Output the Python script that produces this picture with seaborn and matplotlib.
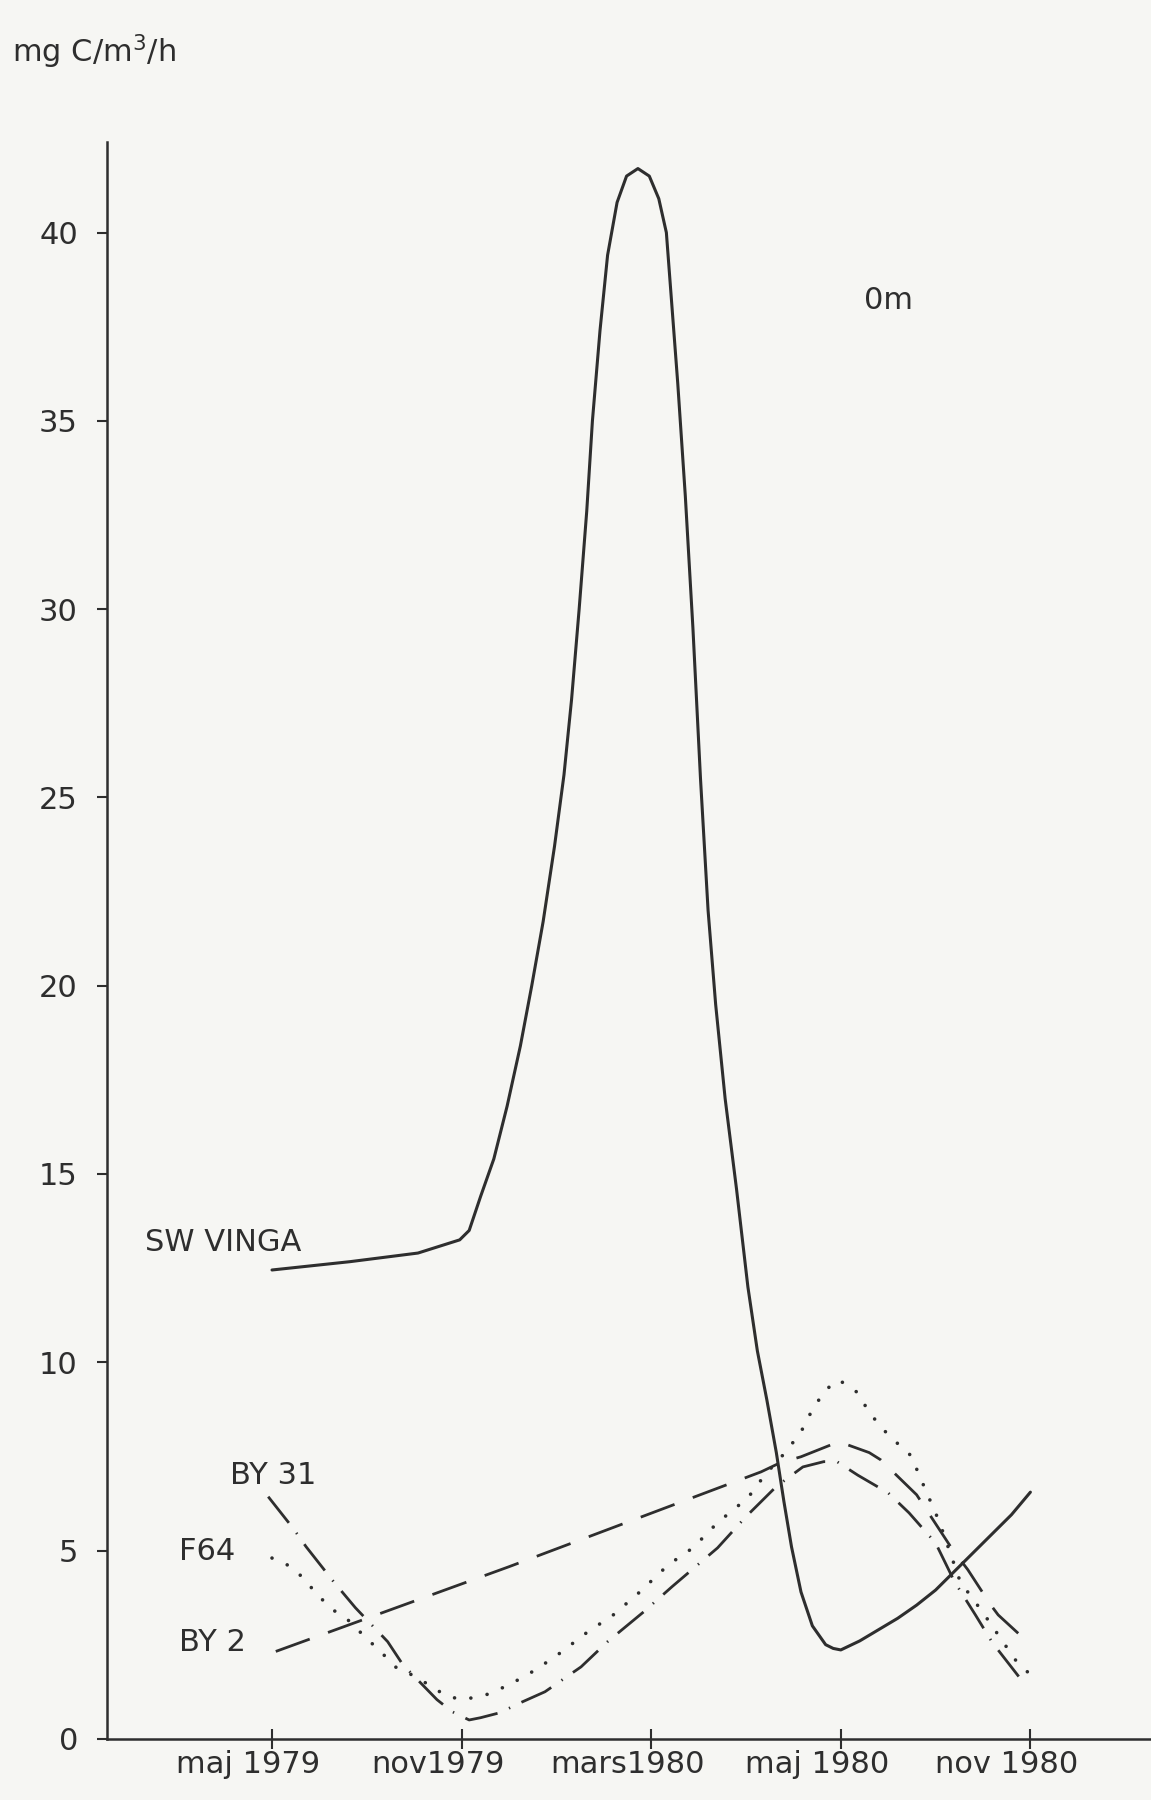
import matplotlib
matplotlib.use('Agg')
import matplotlib.pyplot as plt
import seaborn as sns
from matplotlib.transforms import ScaledTranslation

# x positions are the tick slots 0..4 (the drawing spaces the dates evenly)
months = ['maj 1979', 'nov1979', 'mars1980', 'maj 1980', 'nov 1980']
y_ticks = [0, 5, 10, 15, 20, 25, 30, 35, 40]

# SW VINGA, solid
sw_x = [0.0, 0.41, 0.77, 0.99, 1.04, 1.10, 1.17, 1.24, 1.31, 1.37, 1.43, 1.49,
        1.54, 1.58, 1.62, 1.66, 1.69, 1.73, 1.77, 1.82, 1.87, 1.93, 1.99, 2.04,
        2.08, 2.14, 2.18, 2.22, 2.26, 2.30, 2.34, 2.39, 2.45, 2.51, 2.56, 2.61,
        2.66, 2.70, 2.74, 2.79, 2.85, 2.92, 2.96, 3.0, 3.1, 3.2, 3.3, 3.4, 3.5,
        3.6, 3.7, 3.8, 3.9, 4.0]
sw_y = [12.45, 12.67, 12.9, 13.25, 13.5, 14.4, 15.4, 16.8, 18.4, 20.0, 21.7, 23.7,
        25.6, 27.6, 30.0, 32.6, 35.0, 37.4, 39.4, 40.8, 41.5, 41.7, 41.5, 40.9,
        40.0, 36.0, 33.0, 29.5, 25.5, 22.0, 19.5, 17.0, 14.6, 12.0, 10.3, 9.0,
        7.6, 6.3, 5.1, 3.9, 3.0, 2.5, 2.4, 2.36, 2.6, 2.9, 3.2, 3.55, 3.95,
        4.45, 4.95, 5.45, 5.95, 6.55]

# BY 2, long dashes
by2_x = [0.02, 1.25, 2.58, 2.68, 2.79, 2.99, 3.15, 3.21, 3.40, 3.59, 3.67, 3.79, 3.83, 3.99]
by2_y = [2.32, 4.57, 7.09, 7.33, 7.49, 7.89, 7.6, 7.41, 6.48, 5.02, 4.49, 3.56, 3.29, 2.55]

# F64, dotted
f64_x = [0.0, 0.08, 0.16, 0.24, 0.32, 0.40, 0.49, 0.58, 0.65, 0.77, 0.85, 0.93,
         1.01, 1.13, 1.25, 1.39, 1.52, 1.66, 1.80, 1.94, 2.09, 2.22, 2.35, 2.51,
         2.60, 2.71, 2.79, 2.85, 2.92, 2.99, 3.09, 3.15, 3.25, 3.37, 3.44, 3.52,
         3.63, 3.75, 3.92, 4.0]
f64_y = [4.8, 4.62, 4.3, 3.82, 3.43, 3.16, 2.71, 2.28, 1.91, 1.62, 1.35, 1.12,
         1.04, 1.17, 1.43, 1.83, 2.28, 2.82, 3.29, 3.9, 4.62, 5.07, 5.74, 6.4,
         7.01, 7.62, 8.15, 8.74, 9.27, 9.53, 9.19, 8.66, 8.07, 7.52, 6.69, 5.76,
         4.17, 3.35, 2.1, 1.7]

# BY 31, dash-dot
by31_x = [-0.02, 0.11, 0.18, 0.33, 0.44, 0.61, 0.69, 0.87, 0.95, 1.04, 1.1, 1.2,
          1.32, 1.44, 1.63, 1.77, 1.96, 2.11, 2.35, 2.50, 2.66, 2.80, 2.91, 2.98,
          3.09, 3.25, 3.36, 3.50, 3.60, 3.71, 3.80, 3.97]
by31_y = [6.43, 5.6, 5.1, 4.14, 3.48, 2.58, 1.97, 1.04, 0.72, 0.5, 0.56, 0.69,
          0.98, 1.25, 1.91, 2.58, 3.37, 4.04, 5.07, 5.9, 6.7, 7.22, 7.36, 7.36,
          7.0, 6.53, 6.0, 5.2, 4.17, 3.29, 2.55, 1.45]

sns.set_theme(style='ticks')
plt.rcParams['font.family'] = ['DejaVu Sans']
ink = '#2e2e2e'
paper = '#f6f6f3'

fig = plt.figure(figsize=(11.51, 18.0), dpi=100, facecolor=paper)
ax = fig.add_axes([0.093, 0.034, 0.906, 0.887])
ax.set_facecolor(paper)

sns.lineplot(x=sw_x, y=sw_y, ax=ax, color=ink, lw=2.2, sort=False, estimator=None,
             solid_joinstyle='round')
sns.lineplot(x=by2_x, y=by2_y, ax=ax, color=ink, lw=2, sort=False, estimator=None,
             linestyle=(0, (13, 7)))
sns.lineplot(x=f64_x, y=f64_y, ax=ax, color=ink, lw=2.6, sort=False, estimator=None,
             linestyle=(0, (0.01, 4.6)), dash_capstyle='round')
sns.lineplot(x=by31_x, y=by31_y, ax=ax, color=ink, lw=2, sort=False, estimator=None,
             linestyle=(0, (12, 4.5, 0.5, 4.5)))

ax.set_xlim(-0.87, 4.63)
ax.set_ylim(0, 42.4)
sns.despine(ax=ax)
for side in ['left', 'bottom']:
    ax.spines[side].set_color(ink)
    ax.spines[side].set_linewidth(1.8)

ax.set_yticks(y_ticks)
ax.set_yticklabels([str(v) for v in y_ticks])
ax.set_xticks(range(len(months)))
ax.set_xticklabels(months)
ax.tick_params(axis='y', direction='out', length=7, width=1.5, pad=14,
               labelsize=22, colors=ink)
ax.tick_params(axis='x', direction='inout', length=14, width=1.5, pad=1,
               labelsize=22, colors=ink)
shift = ScaledTranslation(-0.24, 0, fig.dpi_scale_trans)
for lab in ax.get_xticklabels():
    lab.set_transform(lab.get_transform() + shift)
ax.set_xlabel('')
ax.set_ylabel('')

ax.text(-0.67, 13.17, 'SW VINGA', va='center', ha='left', fontsize=22, color=ink)
ax.text(-0.22, 7.0, 'BY 31', va='center', ha='left', fontsize=22, color=ink)
ax.text(-0.49, 4.97, 'F64', va='center', ha='left', fontsize=22, color=ink)
ax.text(-0.49, 2.55, 'BY 2', va='center', ha='left', fontsize=22, color=ink)
ax.text(3.12, 38.2, '0m', va='center', ha='left', fontsize=22, color=ink)
fig.text(12 / 1151, 1 - 52 / 1800, r'mg C/m$^3$/h', va='center', ha='left',
         fontsize=22, color=ink)

fig.savefig('out.png', dpi=100, facecolor=paper)
